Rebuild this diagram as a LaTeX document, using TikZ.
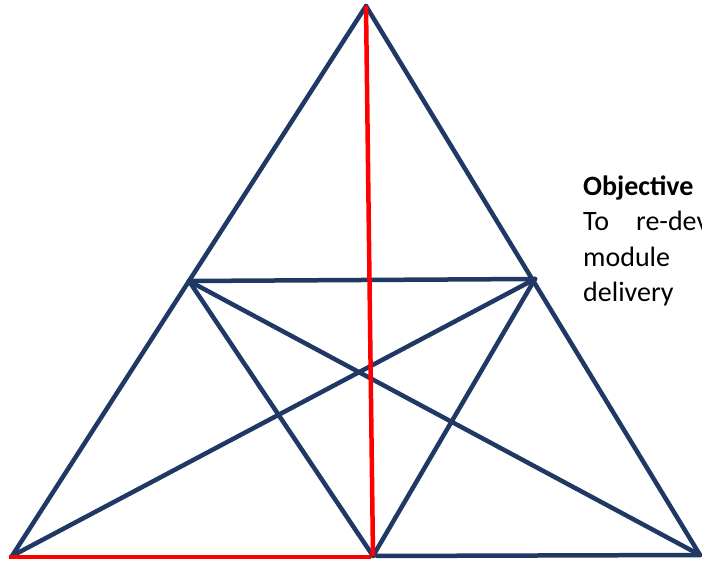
\documentclass[tikz,border=0pt]{standalone}
\usepackage{fontspec}
\setmainfont{Carlito}
\definecolor{navy}{RGB}{31,56,100}
\definecolor{pured}{RGB}{255,0,0}
\begin{document}
\begin{tikzpicture}[x=1pt,y=1pt,
  blue line/.style={draw=navy,line width=4.5pt,line cap=round,line join=round},
  red line/.style={draw=pured,line width=4.5pt},
  txt/.style={anchor=base west,inner sep=0pt,font=\fontsize{28}{34}\selectfont}]
\useasboundingbox (0,0) rectangle (702,562);
\coordinate (A) at (366,556);
\coordinate (BL) at (12,6);
\coordinate (BR) at (700,7);
\coordinate (LM) at (189,281);
\coordinate (RM) at (535,283);
\coordinate (BM) at (373,6);
\draw[blue line] (A) -- (BL);
\draw[blue line] (A) -- (BR);
\draw[blue line] (LM) -- (RM);
\draw[blue line] (LM) -- (BM);
\draw[blue line] (RM) -- (BM);
\draw[blue line] (LM) -- (BR);
\draw[blue line] (RM) -- (BL);
\draw[blue line] (BM) ++(4,0) coordinate (BM2) -- (BR);
\draw[red line] (A) -- (BM);
\draw[red line] (9,5) coordinate (BL2) -- (371,5) coordinate (BM3);
\begin{scope}
\clip (560,240) rectangle (702,420);
\node[txt,font=\fontsize{28}{34}\selectfont\bfseries] (obj) at (583,366) {Objective};
\node[txt] (l1) at (583,331) {To\hspace{27pt}re-dev};
\node[txt] (l2) at (583,295) {module};
\node[txt] (l3) at (583,260) {delivery};
\end{scope}
\end{tikzpicture}
\end{document}
